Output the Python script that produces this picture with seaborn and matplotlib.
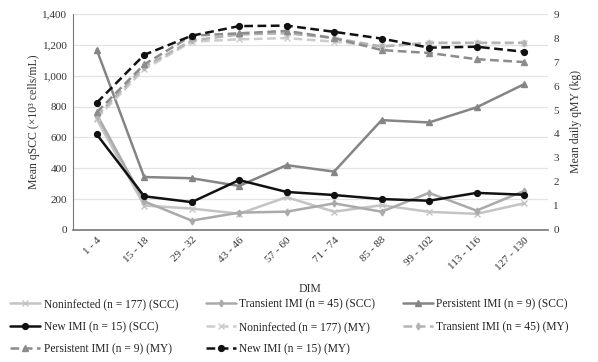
import matplotlib
matplotlib.use("Agg")
import matplotlib.pyplot as plt
import seaborn as sns

# Data
dim = ["1 - 4", "15 - 18", "29 - 32", "43 - 46", "57 - 60",
       "71 - 74", "85 - 88", "99 - 102", "113 - 116", "127 - 130"]

# Mean qSCC (x10^3 cells/mL), left axis
scc_noninfected = [720, 158, 138, 105, 212, 118, 160, 117, 104, 172]
scc_transient = [750, 185, 60, 112, 118, 172, 118, 240, 125, 252]
scc_persistent = [1170, 343, 335, 285, 420, 378, 712, 697, 795, 945]
scc_new = [620, 218, 180, 323, 246, 226, 200, 189, 240, 228]

# Mean daily qMY (kg), right axis
my_noninfected = [4.65, 6.7, 7.85, 7.95, 8.0, 7.85, 7.65, 7.8, 7.8, 7.8]
my_transient = [4.75, 6.8, 7.9, 8.15, 8.2, 8.0, 7.65, 7.8, 7.8, 7.8]
my_persistent = [4.9, 6.9, 8.1, 8.2, 8.3, 8.0, 7.5, 7.38, 7.12, 7.0]
my_new = [5.3, 7.3, 8.1, 8.5, 8.52, 8.26, 7.98, 7.6, 7.64, 7.43]

labels = ["Noninfected (n = 177) (SCC)", "Transient IMI (n = 45) (SCC)",
          "Persistent IMI (n = 9) (SCC)", "New IMI (n = 15) (SCC)",
          "Noninfected (n = 177) (MY)", "Transient IMI (n = 45) (MY)",
          "Persistent IMI (n = 9) (MY)", "New IMI (n = 15) (MY)"]

sns.set_style("white")
plt.rcParams['font.family'] = ['Liberation Serif', 'DejaVu Serif']

fig = plt.figure(figsize=(5.98, 3.62), dpi=100)
ax = fig.add_axes([0.122, 0.365, 0.794, 0.596])
ax2 = ax.twinx()

colors = ["#c4c4c4", "#aaaaaa", "#858585", "#111111"]
markers = ["x", "d", "^", "o"]
msizes = [4, 3.5, 4, 4.2]
dash = (0, (3.5, 1.8))

for vals, c, m, ms, lab in zip([scc_noninfected, scc_transient, scc_persistent, scc_new],
                               colors, markers, msizes, labels[:4]):
    sns.lineplot(x=dim, y=vals, ax=ax, color=c, marker=m, markersize=ms,
                 linewidth=1.8, markeredgecolor=c, markeredgewidth=1.0,
                 label=lab, sort=False)

my_colors = ["#cccccc", "#b4b4b4", "#8c8c8c", "#111111"]
for vals, c, m, ms, lab in zip([my_noninfected, my_transient, my_persistent, my_new],
                               my_colors, markers, msizes, labels[4:]):
    sns.lineplot(x=dim, y=vals, ax=ax2, color=c, marker=m, markersize=ms,
                 linewidth=1.8, linestyle=dash, markeredgecolor=c,
                 markeredgewidth=1.0, label=lab, sort=False)

ax.set_ylim(0, 1400)
ax.set_yticks(range(0, 1401, 200))
ax.set_yticklabels([f"{v:,}" for v in range(0, 1401, 200)])
ax2.set_ylim(0, 9)
ax2.set_yticks(range(0, 10))
ax.set_xlim(-0.5, len(dim) - 0.5)

ax.yaxis.grid(True, color="#e3e3e3", linewidth=0.9)
ax.set_axisbelow(True)
for a in (ax, ax2):
    for s in ("top", "right"):
        a.spines[s].set_visible(False)
    a.tick_params(length=0, labelsize=8, colors="#333333", pad=4)
ax2.spines["left"].set_visible(False)
ax2.spines["bottom"].set_visible(False)
ax.spines["left"].set_color("#777777")
ax.spines["bottom"].set_color("#777777")
ax.spines["bottom"].set_linewidth(1.2)

plt.setp(ax.get_xticklabels(), rotation=45, ha="right", rotation_mode="anchor")
ax.set_xlabel("DIM", fontsize=8.5, color="#333333", labelpad=8)
ax.set_ylabel("Mean qSCC (×10³ cells/mL)", fontsize=8.5, color="#333333", labelpad=2)
ax2.set_ylabel("Mean daily qMY (kg)", fontsize=8.5, color="#333333", labelpad=8)

h1, l1 = ax.get_legend_handles_labels()
h2, l2 = ax2.get_legend_handles_labels()
ax.get_legend().remove()
ax2.get_legend().remove()
handles = h1 + h2
names = l1 + l2
order = [0, 3, 6, 1, 4, 7, 2, 5]
fig.legend([handles[i] for i in order], [names[i] for i in order],
           loc="lower left", bbox_to_anchor=(0.0, -0.01), ncol=3,
           frameon=False, fontsize=8.3, handlelength=2.6,
           columnspacing=2.4, handletextpad=0.3, labelspacing=0.9,
           labelcolor="#222222")

fig.savefig("out.png", dpi=100)
